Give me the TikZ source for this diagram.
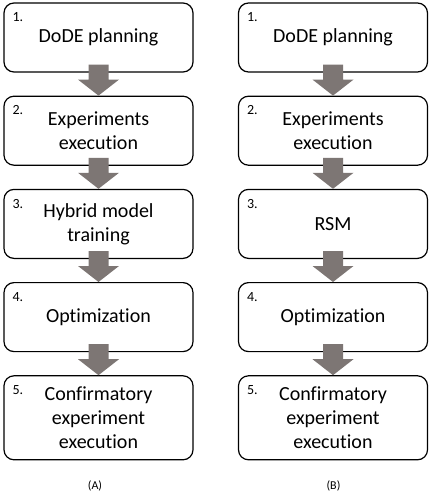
\documentclass[tikz,border=0pt]{standalone}
\usepackage{fontspec}
\setmainfont{Carlito}[Ligatures=NoCommon]
\usepackage{xcolor}
\usepackage{tikz}
\usetikzlibrary{positioning,calc}

\definecolor{arrowgray}{RGB}{125,118,116}

\tikzset{
    stepbox/.style={draw, line width=1.2pt, rounded corners=10pt, fill=white,
        minimum width=189pt, minimum height=69pt, inner sep=0pt, align=center,
        font=\fontsize{20}{24}\selectfont},
    numtag/.style={inner sep=0pt, font=\fontsize{14}{14}\selectfont},
    caption/.style={inner sep=0pt, font=\fontsize{12}{12}\selectfont},
    flowarrow/.style={fill=arrowgray}
}

\begin{document}
\begin{tikzpicture}[x=1pt, y=1pt]
    \useasboundingbox (0,0) rectangle (429,-492);

    % Column A: hybrid model workflow
    \node[stepbox] (a1) at (98.5,-37.5) {DoDE planning};
    \node[stepbox, below=23pt of a1] (a2) {Experiments\\execution};
    \node[stepbox, below=23pt of a2] (a3) {Hybrid model\\training};
    \node[stepbox, below=23pt of a3] (a4) {Optimization};
    \node[stepbox, below=23pt of a4, minimum height=84pt] (a5) {Confirmatory\\experiment\\execution};

    % Column B: RSM workflow
    \node[stepbox] (b1) at (333,-37.5) {DoDE planning};
    \node[stepbox, below=23pt of b1] (b2) {Experiments\\execution};
    \node[stepbox, below=23pt of b2] (b3) {RSM};
    \node[stepbox, below=23pt of b3] (b4) {Optimization};
    \node[stepbox, below=23pt of b4, minimum height=84pt] (b5) {Confirmatory\\experiment\\execution};

    % Step numbers
    \foreach \c in {a,b} {
        \foreach \i in {1,...,5} {
            \node[numtag, below right=10pt and 9pt of \c\i.north west] (n\c\i) {\i.};
        }
    }

    % Block arrows between steps
    \foreach \c in {a,b} {
        \foreach \i/\j in {1/2,2/3,3/4,4/5} {
            \fill[flowarrow] ($(\c\i.south)+(-10,8)$) -- ($(\c\i.south)+(-10,-7)$)
                -- ($(\c\i.south)+(-20.5,-7)$) -- (\c\j.north)
                -- ($(\c\i.south)+(20.5,-7)$) -- ($(\c\i.south)+(10,-7)$)
                -- ($(\c\i.south)+(10,8)$) -- cycle;
        }
    }

    % Captions
    \node[caption] (capA) at (95,-485.5) {(A)};
    \node[caption] (capB) at (333.5,-485.5) {(B)};
\end{tikzpicture}
\end{document}
